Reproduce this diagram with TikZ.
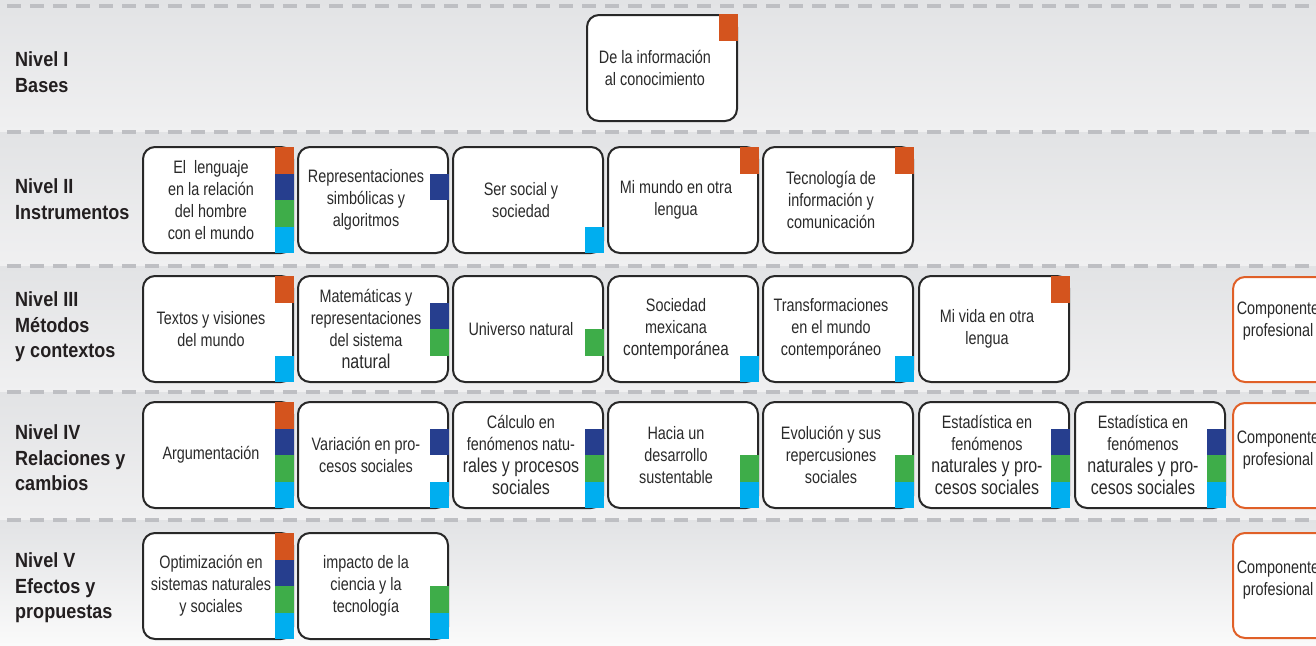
\documentclass[tikz,border=0pt]{standalone}
\usepackage{fontspec}
\setmainfont{Liberation Sans}[FakeStretch=0.8]
\newfontfamily\lblfont{Liberation Sans}[FakeStretch=0.88]
\definecolor{orng}{RGB}{212,84,30}
\definecolor{blu}{RGB}{38,62,142}
\definecolor{grn}{RGB}{62,173,73}
\definecolor{cyn}{RGB}{0,174,239}
\definecolor{compo}{RGB}{224,96,40}
\definecolor{boxline}{RGB}{40,40,40}
\definecolor{txtc}{RGB}{42,42,42}
\definecolor{lblc}{RGB}{35,31,32}
\definecolor{dashc}{RGB}{190,191,195}
\definecolor{bandtop}{RGB}{226,227,229}
\definecolor{bandbot}{RGB}{240,240,241}
\definecolor{bandlast}{RGB}{250,250,250}
\tikzset{
  box/.style={draw=boxline, line width=2pt, rounded corners=12pt, fill=white,
    minimum width=150pt, minimum height=106pt, inner sep=0pt},
  compbox/.style={draw=compo, line width=2pt, rounded corners=12pt, fill=white,
    minimum width=170pt, minimum height=105pt, inner sep=0pt},
  txt/.style={align=center, text=txtc, font=\fontsize{18}{22}\selectfont, inner sep=0pt},
  lbl/.style={align=left, anchor=west, text=lblc,
    font=\lblfont\bfseries\fontsize{20.5}{25.6}\selectfont, inner sep=0pt},
  dashline/.style={draw=dashc, line width=4pt, dash pattern=on 14pt off 9pt},
}
\newcommand\bg[1]{{\fontsize{20}{22}\selectfont #1}}
\newcommand\cbox[4]{%
  \node[box] (#1) at ({#2+75},{#3+53}) {};
  \node[txt] (#1t) at ({#2+68},{#3+53}) {#4};}
\newcommand\tagsq[4]{%
  \fill[#4] ({#1+132},{#2+#3*26.5}) rectangle ({#1+151},{#2+(#3+1)*26.5});}
\newcommand\compbx[3]{%
  \node[compbox, anchor=west] (#1) at (1232,{#2+52.5}) {};
  \node[txt] (#1t) at (1278,{#2+52.5+#3}) {Componente\\profesional};}
\begin{document}
\begin{tikzpicture}[x=1pt,y=-1pt]
\useasboundingbox (0,0) rectangle (1316,645);
\clip (0,0) rectangle (1316,645);
% bands
\shade[top color=bandtop, bottom color=bandbot] (0,0) rectangle (1316,132);
\shade[top color=bandtop, bottom color=bandbot] (0,132) rectangle (1316,266);
\shade[top color=bandtop, bottom color=bandbot] (0,266) rectangle (1316,392);
\shade[top color=bandtop, bottom color=bandbot] (0,392) rectangle (1316,520);
\shade[top color=bandtop, bottom color=bandlast] (0,520) rectangle (1316,645);
% dashed separators
\foreach \yy in {6,132,266,392,520} \draw[dashline] (7,\yy) -- (1330,\yy);
% level labels
\node[lbl] (n1) at (15,72) {Nivel I\\Bases};
\node[lbl] (n2) at (15,199) {Nivel II\\Instrumentos};
\node[lbl] (n3) at (15,327) {Nivel III\\Métodos\\y contextos};
\node[lbl] (n4) at (15,458) {Nivel IV\\Relaciones y\\cambios};
\node[lbl] (n5) at (15,588) {Nivel V\\Efectos y\\propuestas};
% Row I
\cbox{b11}{587}{15}{De la información\\al conocimiento}
\tagsq{587}{14}{0}{orng}
% Row II
\cbox{b21}{143}{147}{El\ \ lenguaje\\en la relación\\del hombre\\con el mundo}
\tagsq{143}{147}{0}{orng}\tagsq{143}{147}{1}{blu}\tagsq{143}{147}{2}{grn}\tagsq{143}{147}{3}{cyn}
\cbox{b22}{298}{147}{Representaciones\\simbólicas y\\algoritmos}
\tagsq{298}{147}{1}{blu}
\cbox{b23}{453}{147}{Ser social y\\sociedad}
\tagsq{453}{147}{3}{cyn}
\cbox{b24}{608}{147}{Mi mundo en otra\\lengua}
\tagsq{608}{147}{0}{orng}
\cbox{b25}{763}{147}{Tecnología de\\información y\\comunicación}
\tagsq{763}{147}{0}{orng}
% Row III
\cbox{b31}{143}{276}{Textos y visiones\\del mundo}
\tagsq{143}{276}{0}{orng}\tagsq{143}{276}{3}{cyn}
\cbox{b32}{298}{276}{Matemáticas y\\representaciones\\del sistema\\\bg{natural}}
\tagsq{298}{276}{1}{blu}\tagsq{298}{276}{2}{grn}
\cbox{b33}{453}{276}{Universo natural}
\tagsq{453}{276}{2}{grn}
\cbox{b34}{608}{276}{Sociedad\\mexicana\\{\fontsize{19}{22}\selectfont contemporánea}}
\tagsq{608}{276}{3}{cyn}
\cbox{b35}{763}{276}{Transformaciones\\en el mundo\\contemporáneo}
\tagsq{763}{276}{3}{cyn}
\cbox{b36}{919}{276}{Mi vida en otra\\lengua}
\tagsq{919}{276}{0}{orng}
\compbx{c3}{277}{-8}
% Row IV
\cbox{b41}{143}{402}{Argumentación}
\tagsq{143}{402}{0}{orng}\tagsq{143}{402}{1}{blu}\tagsq{143}{402}{2}{grn}\tagsq{143}{402}{3}{cyn}
\cbox{b42}{298}{402}{Variación en pro-\\cesos sociales}
\tagsq{298}{402}{1}{blu}\tagsq{298}{402}{3}{cyn}
\cbox{b43}{453}{402}{Cálculo en\\fenómenos natu-\\\bg{rales y procesos}\\\bg{sociales}}
\tagsq{453}{402}{1}{blu}\tagsq{453}{402}{2}{grn}\tagsq{453}{402}{3}{cyn}
\cbox{b44}{608}{402}{Hacia un\\desarrollo\\sustentable}
\tagsq{608}{402}{2}{grn}\tagsq{608}{402}{3}{cyn}
\cbox{b45}{763}{402}{Evolución y sus\\repercusiones\\sociales}
\tagsq{763}{402}{2}{grn}\tagsq{763}{402}{3}{cyn}
\cbox{b46}{919}{402}{Estadística en\\fenómenos\\\bg{naturales y pro-}\\\bg{cesos sociales}}
\tagsq{919}{402}{1}{blu}\tagsq{919}{402}{2}{grn}\tagsq{919}{402}{3}{cyn}
\cbox{b47}{1075}{402}{Estadística en\\fenómenos\\\bg{naturales y pro-}\\\bg{cesos sociales}}
\tagsq{1075}{402}{1}{blu}\tagsq{1075}{402}{2}{grn}\tagsq{1075}{402}{3}{cyn}
\compbx{c4}{403}{-5}
% Row V
\cbox{b51}{143}{533}{Optimización en\\sistemas naturales\\y sociales}
\tagsq{143}{533}{0}{orng}\tagsq{143}{533}{1}{blu}\tagsq{143}{533}{2}{grn}\tagsq{143}{533}{3}{cyn}
\cbox{b52}{298}{533}{impacto de la\\ciencia y la\\tecnología}
\tagsq{298}{533}{2}{grn}\tagsq{298}{533}{3}{cyn}
\compbx{c5}{533}{-5}
\end{tikzpicture}
\end{document}
